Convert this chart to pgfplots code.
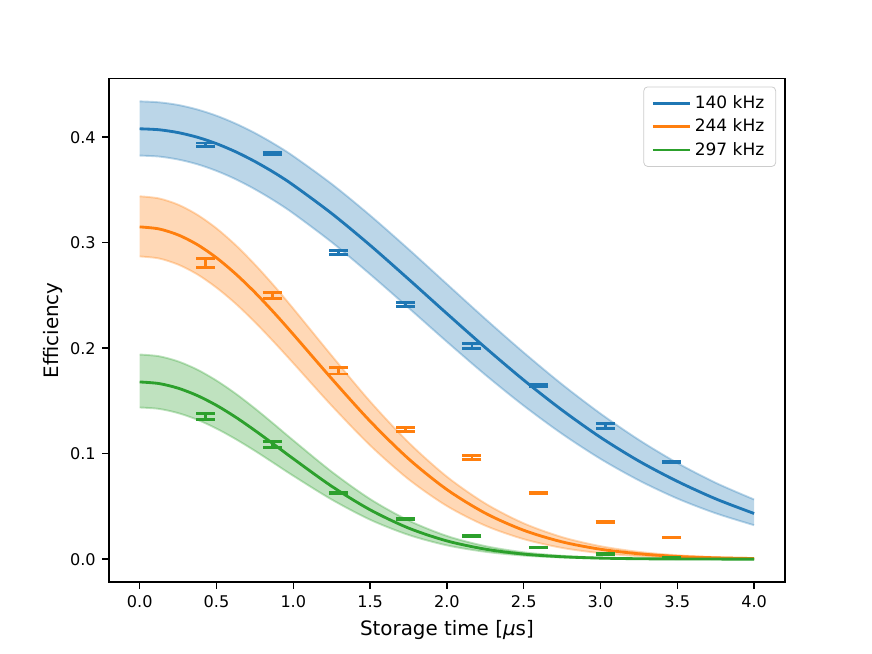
\documentclass[border=0pt]{standalone}
\usepackage{fontspec}
\setmainfont{DejaVu Sans}
\usepackage{pgfplots}
\usepackage{pgfplotstable}
\pgfplotsset{compat=1.18}
\usepgfplotslibrary{fillbetween}
\definecolor{C0}{RGB}{31,119,180}
\definecolor{C1}{RGB}{255,127,14}
\definecolor{C2}{RGB}{44,160,44}

\pgfplotstableread{
x y e
0.429 0.3927 0.0018
0.862 0.3848 0.0010
1.296 0.2907 0.0020
1.729 0.2414 0.0018
2.163 0.2022 0.0022
2.596 0.1646 0.0008
3.030 0.1264 0.0025
3.463 0.0923 0.0008
}\blueData
\pgfplotstableread{
x y e
0.429 0.2809 0.0042
0.862 0.2502 0.0030
1.296 0.1785 0.0030
1.729 0.1229 0.0020
2.163 0.0964 0.0020
2.596 0.0626 0.0005
3.030 0.0354 0.0005
3.463 0.0205 0.0005
}\orangeData
\pgfplotstableread{
x y e
0.429 0.1355 0.0028
0.862 0.1084 0.0028
1.296 0.0629 0.0008
1.729 0.0385 0.0005
2.163 0.0221 0.0005
2.596 0.0111 0.0005
3.030 0.0045 0.0005
3.463 0.0016 0.0005
}\greenData

\begin{document}
\begin{tikzpicture}
\begin{axis}[
  at={(0pt,0pt)}, anchor=south west,
  scale only axis, width=357.12pt, height=266.112pt,
  xmin=-0.2, xmax=4.2, ymin=-0.0217, ymax=0.4557,
  xtick={0,0.5,1,1.5,2,2.5,3,3.5,4},
  ytick={0,0.1,0.2,0.3,0.4},
  xticklabel={\pgfmathprintnumber[fixed,fixed zerofill,precision=1]{\tick}},
  yticklabel={\pgfmathprintnumber[fixed,fixed zerofill,precision=1]{\tick}},
  /pgf/number format/assume math mode=true,
  xtick pos=left, ytick pos=left,
  tick align=outside, major tick length=3.5pt,
  tick style={line width=0.8pt, black},
  axis line style={line width=0.8pt},
  ticklabel style={font=\fontsize{8.5}{10}\selectfont},
  label style={font=\fontsize{10.5}{12}\selectfont},
  ylabel style={yshift=-3pt},
  xlabel={Storage time [\textit{μ}s]},
  ylabel={Efficiency},
  legend style={at={(0.987,0.984)}, anchor=north east, draw=black!20, rounded corners=2pt,
    font=\fontsize{9}{11}\selectfont, row sep=0pt, inner xsep=4pt, inner ysep=2.5pt},
  legend cell align=left,
  legend image code/.code={\draw[#1, line width=1.5pt] (0pt,0pt) -- (19.4pt,0pt);},
]

% ---------- 140 kHz ----------
\addplot[name path=bu, draw=C0, draw opacity=0.3, line width=1pt, smooth, forget plot] coordinates {
(0,0.4340)(0.125,0.4331)(0.25,0.4306)(0.375,0.4263)(0.5,0.4204)(0.625,0.4129)(0.75,0.4040)(0.875,0.3937)(1,0.3821)(1.25,0.3557)(1.5,0.3259)(1.75,0.2939)
(2,0.2608)(2.25,0.2278)(2.5,0.1959)(2.75,0.1657)(3,0.1380)(3.25,0.1131)(3.5,0.0912)(3.75,0.0724)(4,0.0566)};
\addplot[name path=bl, draw=C0, draw opacity=0.3, line width=1pt, smooth, forget plot] coordinates {
(0,0.3826)(0.125,0.3817)(0.25,0.3789)(0.375,0.3744)(0.5,0.3681)(0.625,0.3602)(0.75,0.3507)(0.875,0.3399)(1,0.3278)(1.25,0.3005)(1.5,0.2701)(1.75,0.2383)
(2,0.2061)(2.25,0.1748)(2.5,0.1455)(2.75,0.1188)(3,0.0951)(3.25,0.0747)(3.5,0.0575)(3.75,0.0435)(4,0.0322)};
\addplot[fill=C0, fill opacity=0.3, draw=none, forget plot] fill between[of=bu and bl];
\addplot[C0, line width=1.5pt, smooth] coordinates {
(0,0.4080)(0.125,0.4071)(0.25,0.4044)(0.375,0.4000)(0.5,0.3939)(0.625,0.3862)(0.75,0.3770)(0.875,0.3665)(1,0.3546)(1.25,0.3277)(1.5,0.2976)(1.75,0.2655)
(2,0.2328)(2.25,0.2006)(2.5,0.1698)(2.75,0.1413)(3,0.1155)(3.25,0.0930)(3.5,0.0738)(3.75,0.0572)(4,0.0433)};
\addlegendentry{140 kHz}
\addplot[C0, draw=none, mark=none, forget plot,
  error bars/.cd, y dir=both, y explicit, error mark=|,
  error mark options={draw=C0, line width=1.5pt, mark size=5pt},
  error bar style={draw=C0, line width=1.5pt}]
  table[x=x, y=y, y error=e] {\blueData};

% ---------- 244 kHz ----------
\addplot[name path=ou, draw=C1, draw opacity=0.3, line width=1pt, smooth, forget plot] coordinates {
(0,0.3440)(0.125,0.3420)(0.25,0.3361)(0.375,0.3265)(0.5,0.3136)(0.625,0.2977)(0.75,0.2793)(0.875,0.2591)(1,0.2375)(1.25,0.1929)(1.5,0.1495)(1.75,0.1107)
(2,0.0782)(2.25,0.0528)(2.5,0.0340)(2.75,0.0209)(3,0.0123)(3.25,0.0069)(3.5,0.0037)(3.75,0.0019)(4,0.0009)};
\addplot[name path=ol, draw=C1, draw opacity=0.3, line width=1pt, smooth, forget plot] coordinates {
(0,0.2870)(0.125,0.2851)(0.25,0.2793)(0.375,0.2700)(0.5,0.2574)(0.625,0.2422)(0.75,0.2247)(0.875,0.2057)(1,0.1858)(1.25,0.1455)(1.5,0.1079)(1.75,0.0758)
(2,0.0504)(2.25,0.0318)(2.5,0.0190)(2.75,0.0107)(3,0.0057)(3.25,0.0029)(3.5,0.0014)(3.75,0.0006)(4,0.0003)};
\addplot[fill=C1, fill opacity=0.3, draw=none, forget plot] fill between[of=ou and ol];
\addplot[C1, line width=1.5pt, smooth] coordinates {
(0,0.3150)(0.125,0.3131)(0.25,0.3074)(0.375,0.2982)(0.5,0.2857)(0.625,0.2704)(0.75,0.2529)(0.875,0.2336)(1,0.2131)(1.25,0.1711)(1.5,0.1308)(1.75,0.0952)
(2,0.0660)(2.25,0.0436)(2.5,0.0274)(2.75,0.0164)(3,0.0094)(3.25,0.0051)(3.5,0.0026)(3.75,0.0013)(4,0.0006)};
\addlegendentry{244 kHz}
\addplot[C1, draw=none, mark=none, forget plot,
  error bars/.cd, y dir=both, y explicit, error mark=|,
  error mark options={draw=C1, line width=1.5pt, mark size=5pt},
  error bar style={draw=C1, line width=1.5pt}]
  table[x=x, y=y, y error=e] {\orangeData};

% ---------- 297 kHz ----------
\addplot[name path=gu, draw=C2, draw opacity=0.3, line width=1pt, smooth, forget plot] coordinates {
(0,0.1940)(0.125,0.1924)(0.25,0.1875)(0.375,0.1797)(0.5,0.1693)(0.625,0.1569)(0.75,0.1429)(0.875,0.1279)(1,0.1126)(1.25,0.0829)(1.5,0.0570)(1.75,0.0367)
(2,0.0220)(2.25,0.0124)(2.5,0.0065)(2.75,0.0032)(3,0.0014)(3.25,0.0006)(3.5,0.0002)(3.75,0.0001)(4,0.0000)};
\addplot[name path=gl, draw=C2, draw opacity=0.3, line width=1pt, smooth, forget plot] coordinates {
(0,0.1438)(0.125,0.1425)(0.25,0.1385)(0.375,0.1322)(0.5,0.1238)(0.625,0.1138)(0.75,0.1027)(0.875,0.0909)(1,0.0790)(1.25,0.0565)(1.5,0.0374)(1.75,0.0230)
(2,0.0131)(2.25,0.0070)(2.5,0.0034)(2.75,0.0016)(3,0.0007)(3.25,0.0003)(3.5,0.0001)(3.75,0.0000)(4,0.0000)};
\addplot[fill=C2, fill opacity=0.3, draw=none, forget plot] fill between[of=gu and gl];
\addplot[C2, line width=1.5pt, smooth] coordinates {
(0,0.1680)(0.125,0.1665)(0.25,0.1621)(0.375,0.1551)(0.5,0.1458)(0.625,0.1346)(0.75,0.1220)(0.875,0.1087)(1,0.0952)(1.25,0.0691)(1.5,0.0468)(1.75,0.0295)
(2,0.0173)(2.25,0.0095)(2.5,0.0048)(2.75,0.0023)(3,0.0010)(3.25,0.0004)(3.5,0.0002)(3.75,0.0001)(4,0.0000)};
\addlegendentry{297 kHz}
\addplot[C2, draw=none, mark=none, forget plot,
  error bars/.cd, y dir=both, y explicit, error mark=|,
  error mark options={draw=C2, line width=1.5pt, mark size=5pt},
  error bar style={draw=C2, line width=1.5pt}]
  table[x=x, y=y, y error=e] {\greenData};
\end{axis}
\pgfresetboundingbox
\useasboundingbox (-57.6pt,-38.016pt) rectangle (403.2pt,307.584pt);
\end{tikzpicture}
\end{document}
